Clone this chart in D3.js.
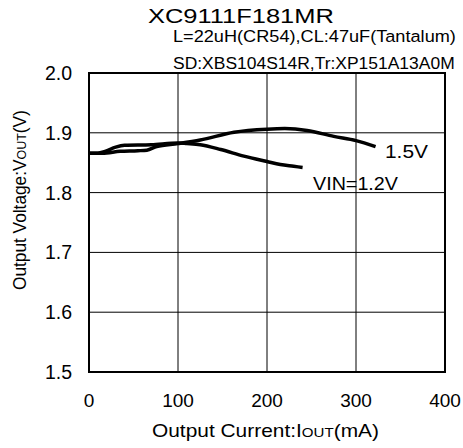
<!DOCTYPE html>
<html>
<head>
<meta charset="utf-8">
<script src="https://cdn.jsdelivr.net/npm/d3@7"></script>
<style>
  body { margin: 0; background: #fff; }
  text { font-family: "Liberation Sans", Arial, sans-serif; fill: #000; }
</style>
</head>
<body>
<div id="chart"></div>
<script>
// values
const xTicks = [0, 100, 200, 300, 400];
const yTicks = [1.5, 1.6, 1.7, 1.8, 1.9, 2.0];

const iout15 = [0, 15, 35, 55, 65, 76, 100, 125, 163, 200, 220, 245, 275, 300, 322];
const vout15 = [1.866, 1.866, 1.869, 1.870, 1.871, 1.877, 1.882, 1.888, 1.901, 1.906, 1.907, 1.904, 1.894, 1.887, 1.877];

const iout12 = [0, 10, 18, 30, 40, 70, 100, 110, 125, 148, 174, 200, 215, 230, 240];
const vout12 = [1.866, 1.866, 1.869, 1.876, 1.879, 1.880, 1.883, 1.882, 1.880, 1.872, 1.861, 1.852, 1.847, 1.844, 1.842];

const W = 463, H = 448;
const margin = {top: 73, right: 18, bottom: 76, left: 89};
const width = W - margin.left - margin.right;
const height = H - margin.top - margin.bottom;

const svg = d3.select("#chart").append("svg")
    .attr("width", W)
    .attr("height", H);

const g = svg.append("g")
    .attr("transform", "translate(" + margin.left + "," + margin.top + ")");

const x = d3.scaleLinear().domain([0, 400]).range([0, width]);
const y = d3.scaleLinear().domain([1.5, 2.0]).range([height, 0]);

// the reference font is a bit wider than Arial, so stretch text to the measured width
function stretch(sel, px, py, target, rot) {
    let w = sel.node().getComputedTextLength();
    let t = "translate(" + px + "," + py + ")";
    if (rot) t += " rotate(" + rot + ")";
    sel.attr("transform", t + " scale(" + (target / w) + ",1)");
}

// grid
g.selectAll(".vgrid").data(xTicks.slice(1, -1)).enter().append("line")
    .attr("x1", d => x(d)).attr("x2", d => x(d))
    .attr("y1", 0).attr("y2", height)
    .attr("stroke", "#000").attr("stroke-width", 1);
g.selectAll(".hgrid").data(yTicks.slice(1, -1)).enter().append("line")
    .attr("x1", 0).attr("x2", width)
    .attr("y1", d => y(d)).attr("y2", d => y(d))
    .attr("stroke", "#000").attr("stroke-width", 1);

// frame
g.append("rect")
    .attr("width", width).attr("height", height)
    .attr("fill", "none").attr("stroke", "#000").attr("stroke-width", 2);

// tick labels
g.selectAll(".xlab").data(xTicks).enter().append("text")
    .attr("x", d => x(d))
    .attr("y", height + 35)
    .attr("text-anchor", "middle")
    .attr("font-size", 19)
    .text(d => d);
g.selectAll(".ylab").data(yTicks).enter().append("text")
    .attr("x", -17)
    .attr("y", d => y(d))
    .attr("dy", "0.36em")
    .attr("text-anchor", "end")
    .attr("font-size", 19.5)
    .text(d => d.toFixed(1));

// curves
const line = d3.line()
    .x(d => x(d[0]))
    .y(d => y(d[1]))
    .curve(d3.curveMonotoneX);

g.append("path")
    .datum(d3.zip(iout15, vout15))
    .attr("d", line)
    .attr("fill", "none").attr("stroke", "#000").attr("stroke-width", 3.5);
g.append("path")
    .datum(d3.zip(iout12, vout12))
    .attr("d", line)
    .attr("fill", "none").attr("stroke", "#000").attr("stroke-width", 3.5);

// curve labels
stretch(svg.append("text").attr("font-size", 18).text("1.5V"), 385, 158, 43);
stretch(svg.append("text").attr("font-size", 18).text("VIN=1.2V"), 313, 190, 85);

// titles
stretch(svg.append("text").attr("font-size", 21).text("XC9111F181MR"), 148, 23, 186);
stretch(svg.append("text").attr("font-size", 17).text("L=22uH(CR54),CL:47uF(Tantalum)"), 173, 42, 283);
stretch(svg.append("text").attr("font-size", 17).text("SD:XBS104S14R,Tr:XP151A13A0M"), 173, 69, 282);

// axis titles
const xt = svg.append("text").attr("font-size", 18);
xt.append("tspan").text("Output Current:I");
xt.append("tspan").attr("font-size", 13).text("OUT");
xt.append("tspan").text("(mA)");
stretch(xt, 152, 437, 227);

const yt = svg.append("text").attr("font-size", 18);
yt.append("tspan").text("Output Voltage:V");
yt.append("tspan").attr("font-size", 13).text("OUT");
yt.append("tspan").text("(V)");
stretch(yt, 26, 290, 180, -90);
</script>
</body>
</html>
